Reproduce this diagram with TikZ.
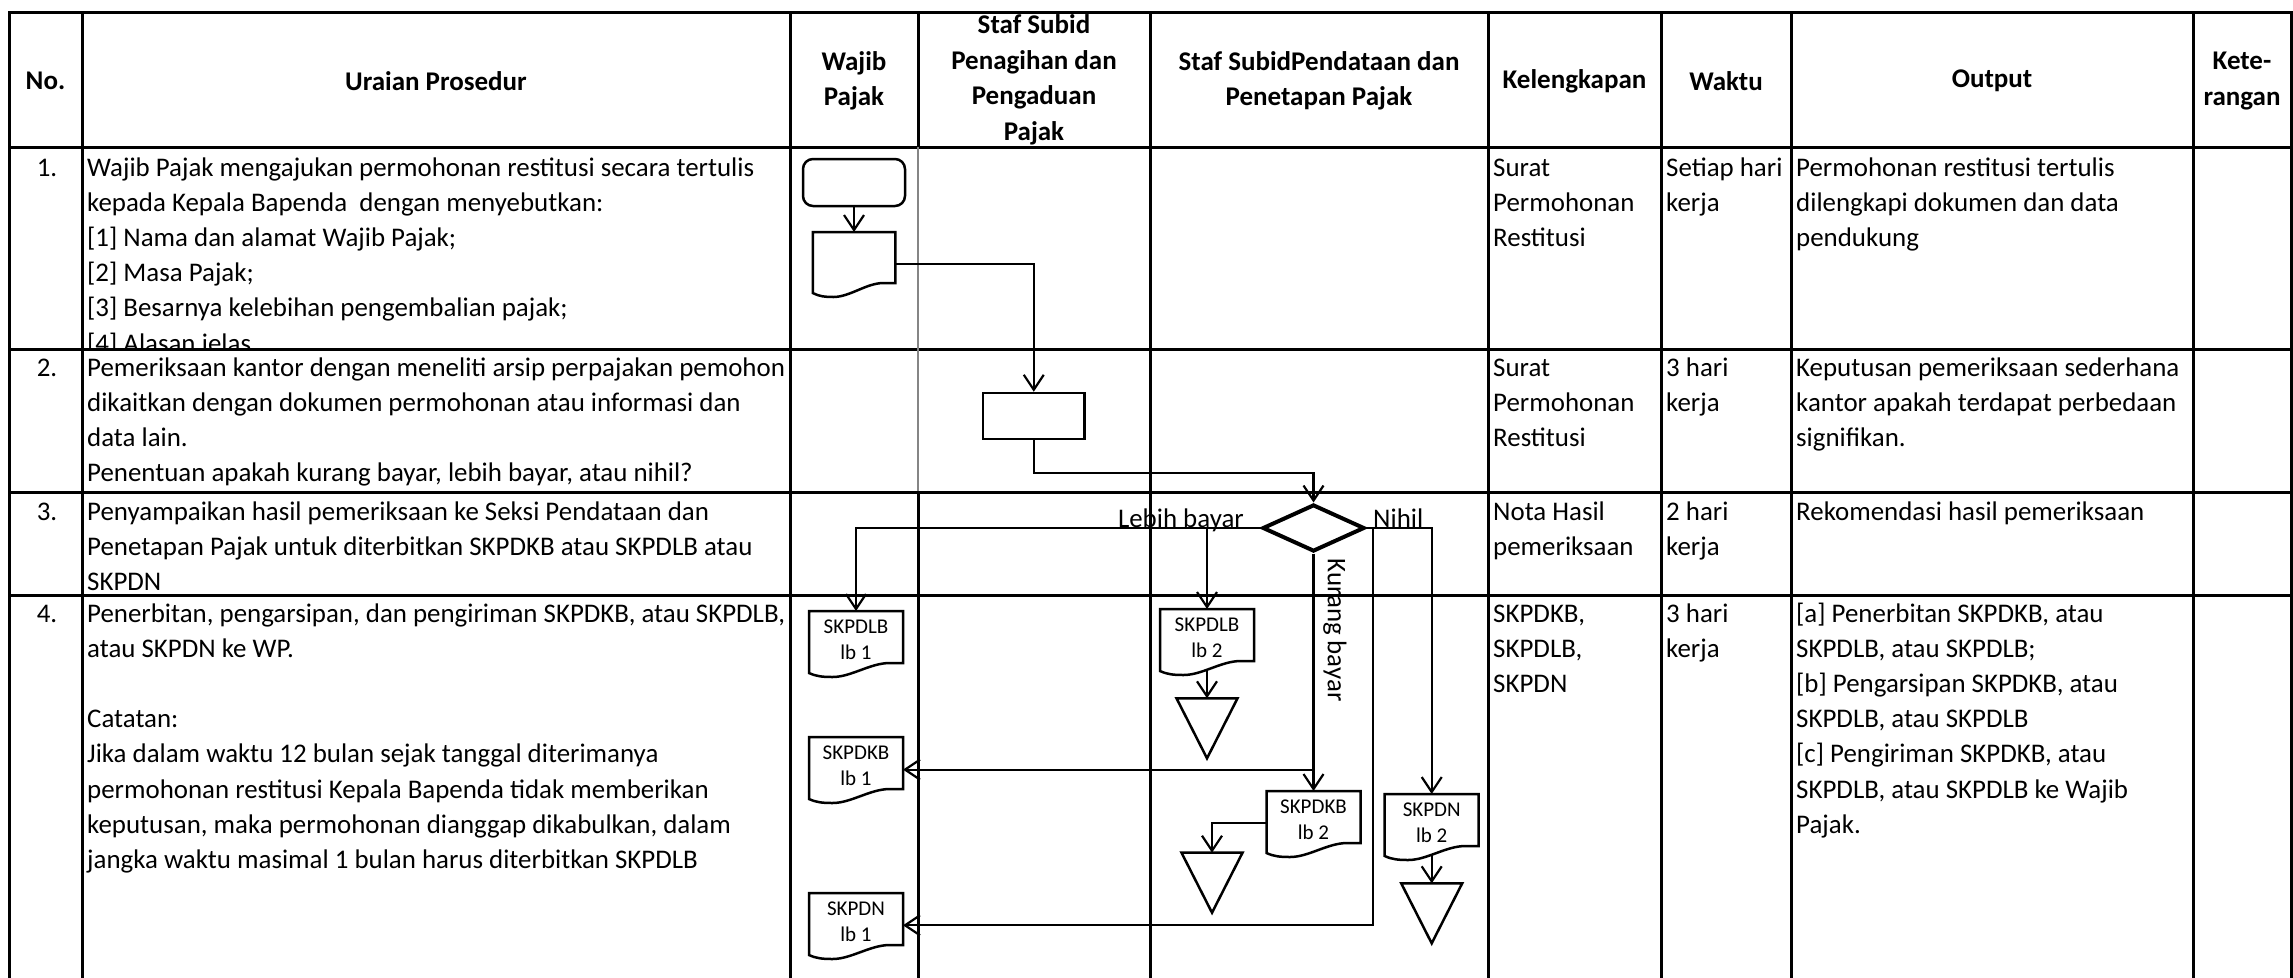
\documentclass[tikz,border=0pt]{standalone}
\usepackage{fontspec}
\setmainfont{Carlito}
\usetikzlibrary{arrows.meta,shapes.geometric,calc}
\newcommand\bodyfont{\fontsize{26.9}{35.2}\selectfont}
\newcommand\hdrfont{\fontsize{27}{35.5}\selectfont\bfseries}
\newcommand\docfont{\fontsize{21}{26}\selectfont}
\newcommand\cellL[1]{\begin{tabular}[t]{@{}l@{}}#1\end{tabular}}
\newcommand\docshape[1]{%
  \draw[shp] (#1.south east) -- (#1.north east) -- (#1.north west) -- ($(#1.south west)+(0,10)$)
  .. controls ($(#1.south west)!0.08!(#1.south east)+(0,13.5)$) and ($(#1.south west)!0.15!(#1.south east)+(0,14)$) .. ($(#1.south west)!0.25!(#1.south east)+(0,14)$)
  .. controls ($(#1.south west)!0.45!(#1.south east)+(0,14)$) and ($(#1.south west)!0.65!(#1.south east)$) .. ($(#1.south west)!0.86!(#1.south east)$) -- cycle;}
\newcommand\mergetri[1]{%
  \draw[shp, line join=miter] ($(#1)+(-30.5,0)$) -- ($(#1)+(30.5,0)$) -- ($(#1)+(0,60)$) -- cycle;}
\begin{document}
\begin{tikzpicture}[x=1pt, y=-1pt,
  tbl/.style={line width=3pt, black, line cap=rect},
  gry/.style={line width=2.5pt, color=black!48},
  shp/.style={line width=2.5pt, black},
  conn/.style={draw, line width=2.2pt, -{Straight Barb[length=15pt,width=20pt]}},
  cell/.style={inner sep=0pt, anchor=base west, font=\bodyfont},
  numb/.style={inner sep=0pt, anchor=base, font=\bodyfont},
  hdr/.style={inner sep=0pt, align=center, font=\hdrfont},
  lbl/.style={inner sep=0pt, font=\bodyfont},
  doclbl/.style={inner sep=0pt, align=center, font=\docfont},
  docbox/.style={inner sep=0pt, outer sep=0pt, minimum width=94pt, minimum height=52pt, anchor=north}]
\useasboundingbox (0,0) rectangle (2293,977);
\fill[white] (0,0) rectangle (2293,977);

% ---------- table ----------
\foreach \yy in {12,147,349,492,595} \draw[tbl] (9,\yy) -- (2291,\yy);
\foreach \xx in {9,82,790,1150,1488,1661,1791,2193,2291} \draw[tbl] (\xx,12) -- (\xx,980);
\draw[tbl] (918,12) -- (918,147);
\draw[gry] (918,147) -- (918,492);
\draw[tbl] (918,492) -- (918,980);

% ---------- header ----------
\node[hdr] (h1) at (45.5,81) {No.};
\node[hdr] (h2) at (436,81) {Uraian Prosedur};
\node[hdr] (h3) at (854,81) {Wajib\\Pajak};
\node[hdr] (h4) at (1034,80) {Staf Subid\\Penagihan dan\\Pengaduan\\Pajak};
\node[hdr] (h5) at (1319,81) {Staf SubidPendataan dan\\Penetapan Pajak};
\node[hdr] (h6) at (1574.5,81) {Kelengkapan};
\node[hdr] (h7) at (1726,81) {Waktu};
\node[hdr] (h8) at (1992,81) {Output};
\node[hdr] (h9) at (2242,81) {Kete-\\rangan};

% ---------- row 1 ----------
\node[numb] (n1) at (47,176) {1.};
\begin{scope}
\clip (82,147) rectangle (790,348);
\node[cell] (u1) at (87,176) {\cellL{Wajib Pajak mengajukan permohonan restitusi secara tertulis\\kepada Kepala Bapenda~ dengan menyebutkan:\\{}[1] Nama dan alamat Wajib Pajak;\\{}[2] Masa Pajak;\\{}[3] Besarnya kelebihan pengembalian pajak;\\{}[4] Alasan jelas}};
\end{scope}
\node[cell] (k1) at (1493,176) {\cellL{Surat\\Permohonan\\Restitusi}};
\node[cell] (w1) at (1666,176) {\cellL{Setiap hari\\kerja}};
\node[cell] (o1) at (1796,176) {\cellL{Permohonan restitusi tertulis\\dilengkapi dokumen dan data\\pendukung}};

% ---------- row 2 ----------
\node[numb] (n2) at (47,376) {2.};
\node[cell] (u2) at (87,376) {\cellL{Pemeriksaan kantor dengan meneliti arsip perpajakan pemohon\\dikaitkan dengan dokumen permohonan atau informasi dan\\data lain.\\Penentuan apakah kurang bayar, lebih bayar, atau nihil?}};
\node[cell] (k2) at (1493,376) {\cellL{Surat\\Permohonan\\Restitusi}};
\node[cell] (w2) at (1666,376) {\cellL{3 hari\\kerja}};
\node[cell] (o2) at (1796,376) {\cellL{Keputusan pemeriksaan sederhana\\kantor apakah terdapat perbedaan\\signifikan.}};

% ---------- row 3 ----------
\node[numb] (n3) at (47,520) {3.};
\node[cell] (u3) at (87,520) {\cellL{Penyampaikan hasil pemeriksaan ke Seksi Pendataan dan\\Penetapan Pajak untuk diterbitkan SKPDKB atau SKPDLB atau\\SKPDN}};
\node[cell] (k3) at (1493,520) {\cellL{Nota Hasil\\pemeriksaan}};
\node[cell] (w3) at (1666,520) {\cellL{2 hari\\kerja}};
\node[cell] (o3) at (1796,520) {Rekomendasi hasil pemeriksaan};

% ---------- row 4 ----------
\node[numb] (n4) at (47,622) {4.};
\node[cell] (u4) at (87,622) {\cellL{Penerbitan, pengarsipan, dan pengiriman SKPDKB, atau SKPDLB,\\atau SKPDN ke WP.\\ \\Catatan:\\Jika dalam waktu 12 bulan sejak tanggal diterimanya\\permohonan restitusi Kepala Bapenda tidak memberikan\\keputusan, maka permohonan dianggap dikabulkan, dalam\\jangka waktu masimal 1 bulan harus diterbitkan SKPDLB}};
\node[cell] (k4) at (1493,622) {\cellL{SKPDKB,\\SKPDLB,\\SKPDN}};
\node[cell] (w4) at (1666,622) {\cellL{3 hari\\kerja}};
\node[cell] (o4) at (1796,622) {\cellL{{}[a] Penerbitan SKPDKB, atau\\SKPDLB, atau SKPDLB;\\{}[b] Pengarsipan SKPDKB, atau\\SKPDLB, atau SKPDLB\\{}[c] Pengiriman SKPDKB, atau\\SKPDLB, atau SKPDLB ke Wajib\\Pajak.}};

% ---------- flow shapes ----------
\node[draw, line width=2.5pt, rounded corners=10pt, minimum width=102pt, minimum height=47pt, inner sep=0pt] (term) at (854,182.5) {};
\node[docbox, minimum width=82.5pt, minimum height=51pt] (doc1) at (854,232) {};
\node[draw, line width=2.5pt, minimum width=101.5pt, minimum height=46pt, inner sep=0pt] (proc) at (1033.75,416) {};
\node[diamond, draw, line width=4pt, minimum width=102pt, minimum height=47pt, inner sep=0pt] (dia) at (1313.5,528) {};

\node[docbox] (dlb1) at (856,611) {};
\node[docbox] (dkb1) at (856,737) {};
\node[docbox] (dn1) at (856,893) {};
\node[docbox] (dlb2) at (1207,609) {};
\node[docbox] (dkb2) at (1313.5,791) {};
\node[docbox] (dn2) at (1431.7,794) {};

\docshape{doc1}
\docshape{dlb1}
\docshape{dkb1}
\docshape{dn1}
\docshape{dlb2}
\docshape{dkb2}
\docshape{dn2}

\coordinate (tri1) at (1207,698.3);
\coordinate (tri2) at (1212,852.7);
\coordinate (tri3) at (1431.7,883.3);
\mergetri{tri1}
\mergetri{tri2}
\mergetri{tri3}

\node[doclbl] (t1) at ([yshift=-3pt]dlb1.center) {SKPDLB\\lb 1};
\node[doclbl] (t2) at ([yshift=-3pt]dkb1.center) {SKPDKB\\lb 1};
\node[doclbl] (t3) at ([yshift=-3pt]dn1.center) {SKPDN\\lb 1};
\node[doclbl] (t4) at ([yshift=-3pt]dlb2.center) {SKPDLB\\lb 2};
\node[doclbl] (t5) at ([yshift=-3pt]dkb2.center) {SKPDKB\\lb 2};
\node[doclbl] (t6) at ([yshift=-3pt]dn2.center) {SKPDN\\lb 2};

% ---------- connectors ----------
\draw[conn] (term.south) -- (doc1.north);
\draw[conn] ([yshift=-6.5pt]doc1.east) -| (proc.north);
\draw[conn] (proc.south) -- ++(0,33) -| (dia.north);
\draw[conn] (dia.west) -| (dlb1.north);
\draw[conn] (dlb2.north |- dia.west) -- (dlb2.north);
\draw[conn] (dia.south) -- (dkb2.north);
\coordinate (kbj) at ([yshift=-6.6pt]dkb1.east);
\draw[conn] (dia.south |- kbj) -- (kbj);
\draw[conn] (dia.east) -| (dn2.north);
\coordinate (nj) at ([yshift=-6.3pt]dn1.east);
\draw[conn] ([xshift=6.7pt]dia.east) |- (nj);
\draw[conn] ([yshift=-9pt]dlb2.south) -- (tri1);
\draw[conn] ([yshift=-6.3pt]dkb2.west) -| (tri2);
\draw[conn] ([yshift=-9pt]dn2.south) -- (tri3);

% ---------- labels ----------
\node[lbl, anchor=base east] (lbb) at (1244,527) {Lebih bayar};
\node[lbl, anchor=base west] (nhl) at (1373,527) {Nihil};
\node[lbl, rotate=-90] (kbl) at (1335,630) {Kurang bayar};
\end{tikzpicture}
\end{document}
